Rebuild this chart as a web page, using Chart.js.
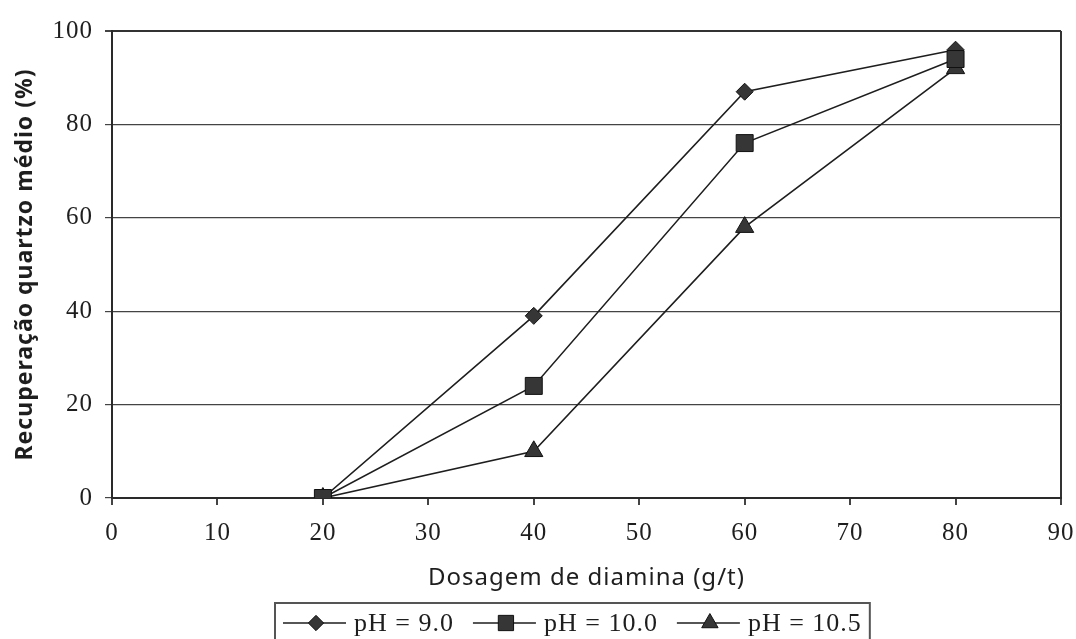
<!DOCTYPE html>
<html>
<head>
<meta charset="utf-8">
<script src="https://cdn.jsdelivr.net/npm/chart.js@4.4.0/dist/chart.umd.min.js"></script>
<style>
  html, body { margin: 0; padding: 0; background: #fff; }
  #wrap { width: 1076px; height: 639px; }
</style>
</head>
<body>
<div id="wrap"><canvas id="myChart" width="1076" height="639"></canvas></div>
<script>
// Dosagem de diamina (g/t)
const dosages = [20, 40, 60, 80];
// Recuperação quartzo médio (%) per pH
const recPH90 = [0, 39, 87, 96];
const recPH100 = [0, 24, 76, 94];
const recPH105 = [0, 10, 58, 92];
const seriesLabels = ['pH = 9.0', 'pH = 10.0', 'pH = 10.5'];
const markerStyles = ['rectRot', 'rect', 'triangle'];
const markerSizes = [8.5, 12, 10.5];
const xTickLabels = [0, 10, 20, 30, 40, 50, 60, 70, 80, 90];
const yTickLabels = [0, 20, 40, 60, 80, 100];

const serif = "'Liberation Serif', 'DejaVu Serif', serif";
const sans = "'Noto Sans', 'Open Sans', sans-serif";
const ink = '#1e1e1e';

function points(values) {
  return dosages.map((d, i) => ({ x: d, y: values[i] }));
}

function makeDataset(label, values, idx, order) {
  return {
    label: label,
    data: points(values),
    borderColor: ink,
    borderWidth: 1.6,
    pointStyle: markerStyles[idx],
    pointRadius: markerSizes[idx],
    pointHoverRadius: markerSizes[idx],
    pointBackgroundColor: '#363636',
    pointBorderColor: '#111',
    pointBorderWidth: 1,
    fill: false,
    tension: 0,
    order: order
  };
}

// the scanned original has wide text, a little letter spacing helps
const spacing = {
  id: 'spacing',
  beforeLayout(chart) { chart.ctx.letterSpacing = '1px'; },
  beforeDraw(chart) { chart.ctx.letterSpacing = '1px'; }
};

// legend drawn in a box under the x title, like the original
const boxLegend = {
  id: 'boxLegend',
  afterDraw(chart) {
    const ctx = chart.ctx;
    const left = 275, top = 603, midY = 623;
    let x = 283;
    ctx.save();
    ctx.font = '26px ' + serif;
    ctx.textBaseline = 'middle';
    chart.data.datasets.forEach((ds) => {
      ctx.strokeStyle = ink;
      ctx.lineWidth = 1.6;
      ctx.beginPath();
      ctx.moveTo(x, midY);
      ctx.lineTo(x + 63, midY);
      ctx.stroke();
      ctx.fillStyle = ds.pointBackgroundColor;
      ctx.strokeStyle = ds.pointBorderColor;
      ctx.lineWidth = 1;
      Chart.helpers.drawPoint(ctx, {
        pointStyle: ds.pointStyle,
        radius: ds.pointRadius * 0.9,
        rotation: 0,
        borderWidth: 1
      }, x + 33, midY);
      x += 71;
      ctx.fillStyle = ink;
      ctx.fillText(ds.label, x, midY + 1);
      x += ctx.measureText(ds.label).width + 19;
    });
    ctx.strokeStyle = '#555';
    ctx.lineWidth = 2;
    ctx.strokeRect(left, top, x - 11 - left, 60);
    ctx.restore();
  }
};

const ctx = document.getElementById('myChart').getContext('2d');
const myChart = new Chart(ctx, {
  type: 'line',
  data: {
    datasets: [
      makeDataset(seriesLabels[0], recPH90, 0, 1),
      makeDataset(seriesLabels[1], recPH100, 1, 0),
      makeDataset(seriesLabels[2], recPH105, 2, 2)
    ]
  },
  options: {
    responsive: false,
    animation: false,
    devicePixelRatio: 1,
    layout: { padding: { top: 31, right: 15, left: 0, bottom: 40 } },
    plugins: {
      legend: { display: false },
      tooltip: { enabled: false }
    },
    scales: {
      x: {
        type: 'linear',
        min: 0,
        max: 90,
        afterFit(scale) {
          scale.height = 101;
          scale.paddingRight = 0; // let the "90" label hang into the margin
        },
        afterBuildTicks(scale) { scale.ticks = xTickLabels.map(v => ({ value: v })); },
        ticks: {
          padding: 13,
          color: ink,
          font: { family: serif, size: 25 }
        },
        grid: {
          color: c => (c.tick && c.tick.value === 90) ? '#333' : 'rgba(0,0,0,0)',
          tickColor: '#444',
          tickLength: 7,
          lineWidth: 2
        },
        border: { color: '#2a2a2a', width: 2 },
        title: {
          display: true,
          text: 'Dosagem de diamina (g/t)',
          color: ink,
          font: { family: sans, size: 24 },
          padding: { top: 0, bottom: 6 }
        }
      },
      y: {
        min: 0,
        max: 100,
        afterFit(scale) { scale.width = 112; },
        afterBuildTicks(scale) { scale.ticks = yTickLabels.map(v => ({ value: v })); },
        ticks: {
          padding: 12,
          color: ink,
          font: { family: serif, size: 25 }
        },
        grid: {
          color: c => (c.tick && c.tick.value === 100) ? '#333' : '#444',
          lineWidth: c => (c.tick && c.tick.value === 100) ? 2 : 1.2,
          tickColor: '#444',
          tickLength: 7
        },
        border: { color: '#2a2a2a', width: 2 },
        title: {
          display: true,
          text: 'Recuperação quartzo médio (%)',
          color: ink,
          font: { family: sans, size: 23, weight: 'bold' },
          padding: { top: 12, bottom: 0 }
        }
      }
    }
  },
  plugins: [spacing, boxLegend]
});
</script>
</body>
</html>
